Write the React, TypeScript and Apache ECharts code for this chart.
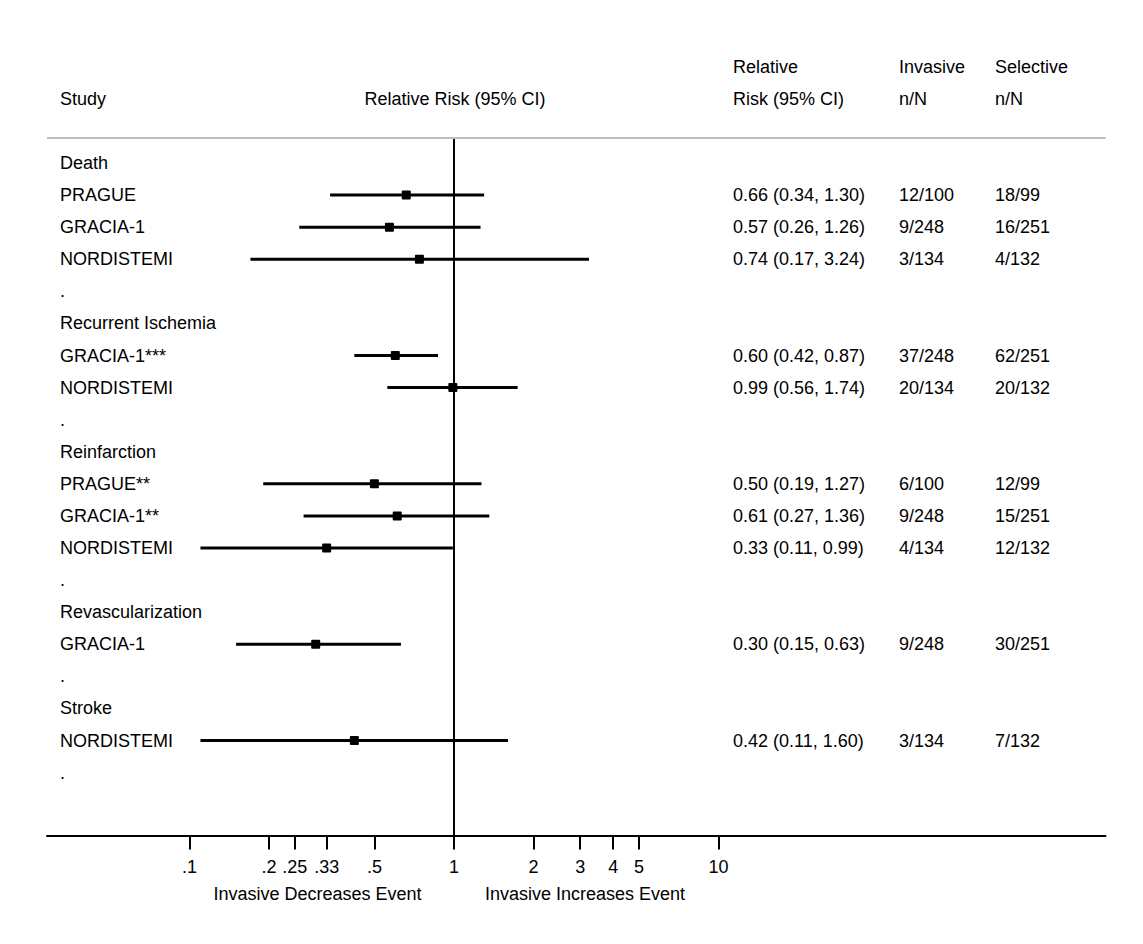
import React, { useEffect, useRef } from 'react';
import * as echarts from 'echarts';

// ---- data ----
const rowLabels = [
  'Death', 'PRAGUE', 'GRACIA-1', 'NORDISTEMI', '.',
  'Recurrent Ischemia', 'GRACIA-1***', 'NORDISTEMI', '.',
  'Reinfarction', 'PRAGUE**', 'GRACIA-1**', 'NORDISTEMI', '.',
  'Revascularization', 'GRACIA-1', '.',
  'Stroke', 'NORDISTEMI', '.',
];
const relRisk = [null, 0.66, 0.57, 0.74, null, null, 0.60, 0.99, null, null, 0.50, 0.61, 0.33, null, null, 0.30, null, null, 0.42, null];
const ciLow = [null, 0.34, 0.26, 0.17, null, null, 0.42, 0.56, null, null, 0.19, 0.27, 0.11, null, null, 0.15, null, null, 0.11, null];
const ciHigh = [null, 1.30, 1.26, 3.24, null, null, 0.87, 1.74, null, null, 1.27, 1.36, 0.99, null, null, 0.63, null, null, 1.60, null];
const invasiveN = [null, '12/100', '9/248', '3/134', null, null, '37/248', '20/134', null, null, '6/100', '9/248', '4/134', null, null, '9/248', null, null, '3/134', null];
const selectiveN = [null, '18/99', '16/251', '4/132', null, null, '62/251', '20/132', null, null, '12/99', '15/251', '12/132', null, null, '30/251', null, null, '7/132', null];
const tickValues = [0.1, 0.2, 0.25, 0.33, 0.5, 1, 2, 3, 4, 5, 10];
const tickLabels = ['.1', '.2', '.25', '.33', '.5', '1', '2', '3', '4', '5', '10'];

// ---- layout ----
const FONT = '"Liberation Sans", Arial, Helvetica, sans-serif';
const FS = 18;
const X_ONE = 454;       // pixel of RR = 1
const PER_DEC = 264.5;   // pixels per decade
const GRID_L = 47;
const GRID_R = 1105.5;
const GRID_T = 138;
const GRID_B = 835.5;
const px2x = (px: number) => (px - X_ONE) / PER_DEC;
const COL_STUDY = px2x(60);
const COL_RR = px2x(733);
const COL_INV = px2x(899);
const COL_SEL = px2x(995);

export default function App() {
  const ref = useRef<HTMLDivElement>(null);
  useEffect(() => {
    if (!ref.current) return;
    const chart = echarts.init(ref.current, null, { renderer: 'svg' });
    const tickLogs = tickValues.map((v) => Math.log10(v));
    const ciData: number[][] = [];
    relRisk.forEach((r, i) => {
      if (r != null) ciData.push([i, Math.log10(ciLow[i] as number), Math.log10(ciHigh[i] as number), Math.log10(r)]);
    });
    const rrTexts = relRisk.map((r, i) =>
      r == null ? null : `${r.toFixed(2)} (${(ciLow[i] as number).toFixed(2)}, ${(ciHigh[i] as number).toFixed(2)})`
    );
    // table cells: [x, row, text]
    const cells: any[] = [];
    const addCol = (x: number, texts: (string | null)[]) =>
      texts.forEach((t, i) => {
        if (t != null) cells.push([x, i, t]);
      });
    addCol(COL_STUDY, rowLabels);
    addCol(COL_RR, rrTexts);
    addCol(COL_INV, invasiveN);
    addCol(COL_SEL, selectiveN);

    const txt = (x: number, y: number, text: string, align = 'left') => ({
      type: 'text',
      x,
      y,
      style: { text, fill: '#000', font: `${FS}px ${FONT}`, align, verticalAlign: 'middle' },
    });
    chart.setOption({
      animation: false,
      backgroundColor: '#fff',
      grid: { left: GRID_L, top: GRID_T, width: GRID_R - GRID_L, height: GRID_B - GRID_T, containLabel: false },
      xAxis: {
        type: 'value',
        min: px2x(GRID_L),
        max: px2x(GRID_R),
        splitLine: { show: false },
        axisLine: { show: true, onZero: false, lineStyle: { color: '#000', width: 2 } },
        axisTick: { show: true, inside: false, length: 14, customValues: tickLogs, lineStyle: { color: '#000', width: 2 } },
        axisLabel: {
          show: true,
          customValues: tickLogs,
          margin: 22,
          color: '#000',
          fontSize: FS,
          fontFamily: FONT,
          formatter: (v: number) => {
            const i = tickLogs.findIndex((t) => Math.abs(t - v) < 1e-6);
            return i >= 0 ? tickLabels[i] : '';
          },
        },
      },
      yAxis: {
        type: 'value',
        inverse: true,
        min: -0.78,
        max: 20.96,
        show: false,
        axisLine: { onZero: false },
        splitLine: { show: false },
      },
      series: [
        {
          type: 'custom',
          data: ciData,
          encode: { x: [1, 2, 3], y: 0 },
          renderItem: (params: any, api: any) => {
            const row = api.value(0);
            const lo = api.coord([api.value(1), row]);
            const hi = api.coord([api.value(2), row]);
            const pt = api.coord([api.value(3), row]);
            return {
              type: 'group',
              children: [
                { type: 'line', shape: { x1: lo[0], y1: lo[1], x2: hi[0], y2: hi[1] }, style: { stroke: '#000', lineWidth: 3 } },
                { type: 'rect', shape: { x: pt[0] - 4.5, y: pt[1] - 4.5, width: 9, height: 9, r: 1 }, style: { fill: '#000' } },
              ],
            };
          },
          markLine: {
            silent: true,
            symbol: 'none',
            label: { show: false },
            lineStyle: { color: '#000', width: 2, type: 'solid' },
            data: [{ xAxis: 0 }],
          },
          z: 3,
        },
        {
          type: 'custom',
          silent: true,
          data: cells,
          encode: { x: 0, y: 1 },
          dimensions: [{ name: 'x', type: 'number' }, { name: 'row', type: 'number' }, { name: 'text', type: 'ordinal' }],
          renderItem: (params: any, api: any) => {
            const c = cells[params.dataIndex];
            const p = api.coord([c[0], c[1]]);
            return {
              type: 'text',
              x: p[0],
              y: p[1],
              style: { text: c[2], fill: '#000', font: `${FS}px ${FONT}`, align: 'left', verticalAlign: 'middle' },
            };
          },
          z: 5,
        },
      ],
      graphic: [
        { type: 'line', shape: { x1: GRID_L, y1: GRID_T, x2: GRID_R, y2: GRID_T }, style: { stroke: '#bebebe', lineWidth: 2 }, z: 10 },
        txt(60, 99, 'Study'),
        txt(455, 99, 'Relative Risk (95% CI)', 'center'),
        txt(733, 67, 'Relative'),
        txt(733, 99, 'Risk (95% CI)'),
        txt(899, 67, 'Invasive'),
        txt(899, 99, 'n/N'),
        txt(995, 67, 'Selective'),
        txt(995, 99, 'n/N'),
        txt(317.5, 894, 'Invasive Decreases Event', 'center'),
        txt(585, 894, 'Invasive Increases Event', 'center'),
      ],
    });
    return () => chart.dispose();
  }, []);
  return (
    <div
      ref={ref}
      style={{ position: 'fixed', left: 0, top: 0, width: 1143, height: 944, background: '#fff' }}
    />
  );
}
